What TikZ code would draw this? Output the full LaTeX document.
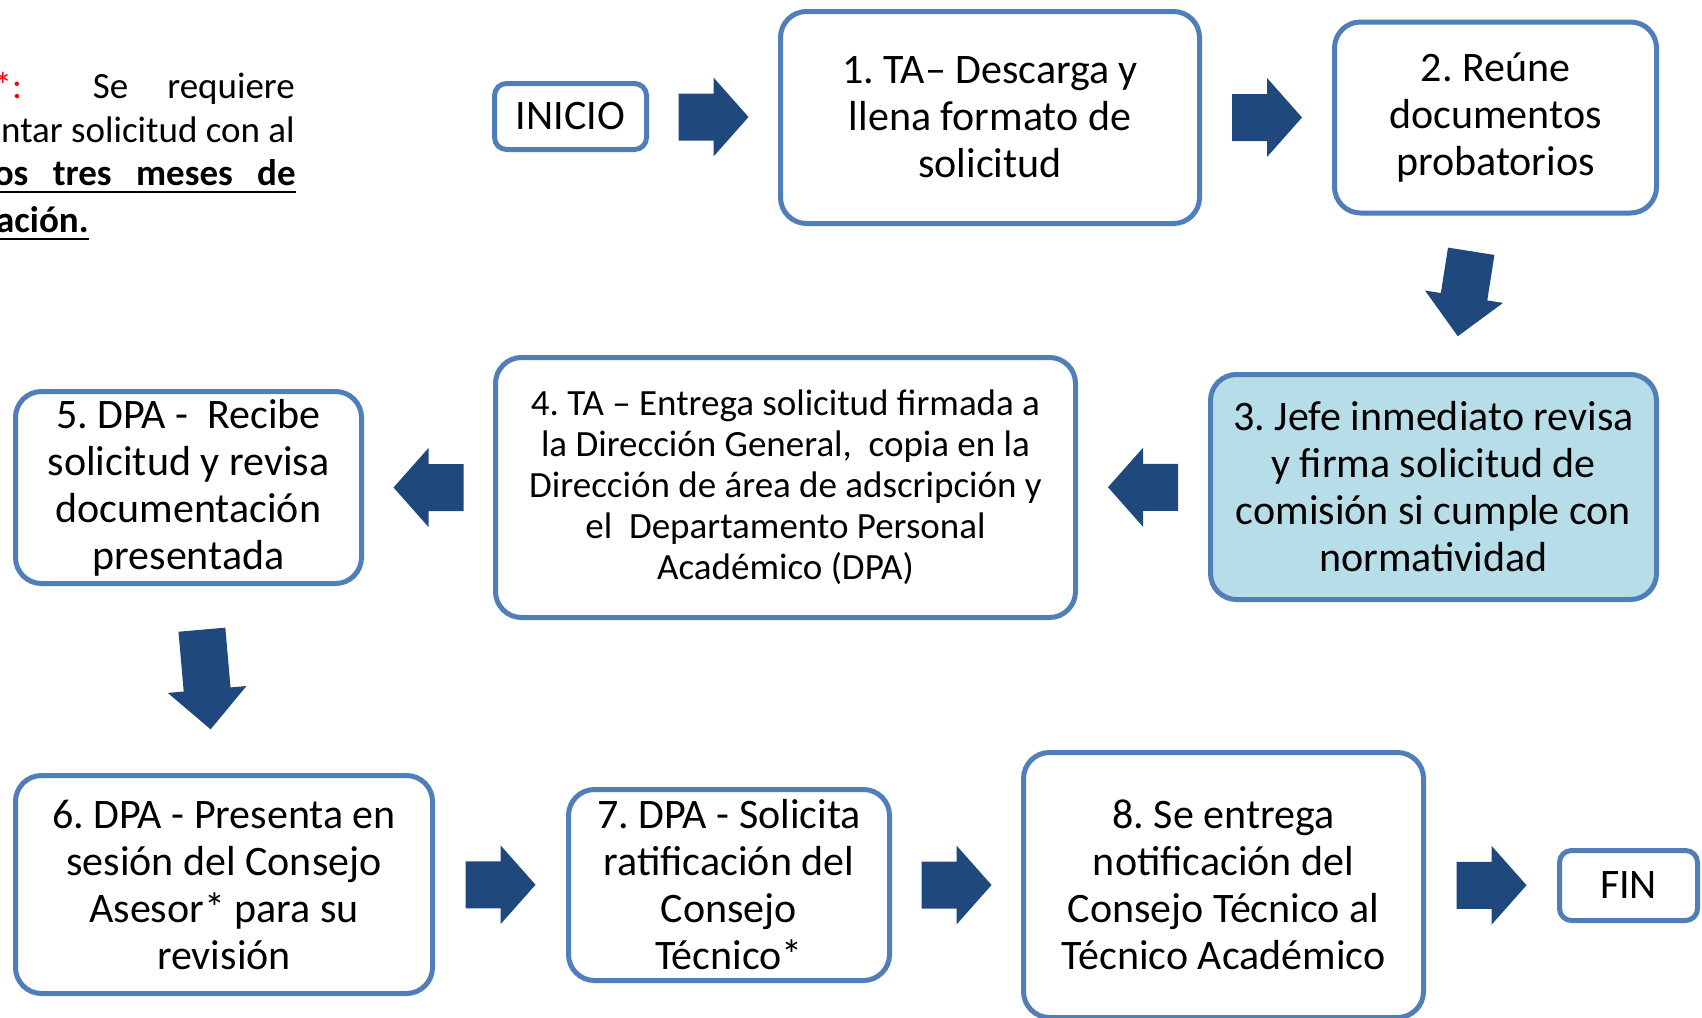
\documentclass[tikz,border=0pt]{standalone}
\usepackage{fontspec}
\setmainfont{Carlito}
\usetikzlibrary{calc}
\frenchspacing
\definecolor{boxblue}{HTML}{4F7EB8}
\definecolor{arrowblue}{HTML}{1F497D}
\definecolor{lightfill}{HTML}{B7DDE8}
\definecolor{notered}{HTML}{FF0000}
\tikzset{
  stepbox/.style={draw=boxblue, line width=5pt, rounded corners=26pt, fill=white,
    align=center, inner sep=0pt, font=\fontsize{42}{47}\selectfont},
  termbox/.style={stepbox, rounded corners=12pt},
  notetext/.style={inner sep=0pt, font=\fontsize{37}{45}\selectfont},
  pics/barrow/.style 2 args={code={
    \fill[arrowblue] ({-#1/2},-23.5) -- ({#1/2-#2},-23.5) -- ({#1/2-#2},-39.5)
      -- ({#1/2},0) -- ({#1/2-#2},39.5) -- ({#1/2-#2},23.5) -- ({-#1/2},23.5) -- cycle;}},
}
\begin{document}
\begin{tikzpicture}[x=1pt,y=-1pt]
\useasboundingbox (0,0) rectangle (1702,1017);
\clip (0,0) rectangle (1702,1017);
\fill[white] (0,0) rectangle (1702,1017);

% note at top left
\node[notetext, anchor=base east] (note1) at (295,98) {\textcolor{notered}{*:}\hspace*{71pt}Se\hspace*{39pt}requiere};
\node[notetext, anchor=base east] (note2) at (295,142) {ntar solicitud con al};
\node[notetext, anchor=base east] (note3) at (296,185) {\makebox[302pt][s]{\bfseries os\hfill tres\hfill meses\hfill de}};
\node[notetext, anchor=base west] (note4) at (-4,232) {\bfseries ación.};
\draw[line width=2.5pt] ($(note3.base west)+(0,7)$) -- ($(note3.base east)+(0,7)$);
\draw[line width=2.5pt] ($(note4.base west)+(0,7)$) -- ($(note4.base east)+(0,7)$);

% boxes
\node[termbox, minimum width=152, minimum height=66] (ini) at (570.5,116.5) {INICIO};
\node[stepbox, minimum width=419, minimum height=212] (b1) at (990,117.5)
  {1. TA– Descarga y\\llena formato de\\solicitud};
\node[stepbox, minimum width=322, minimum height=191] (b2) at (1495.5,117.5)
  {2. Reúne\\documentos\\probatorios};
\node[stepbox, fill=lightfill, minimum width=446, minimum height=225] (b3) at (1433.5,487)
  {3. Jefe inmediato revisa\\y firma solicitud de\\comisión si cumple con\\normatividad};
\node[stepbox, font=\fontsize{37}{41}\selectfont, minimum width=580, minimum height=260] (b4) at (785.5,487.5)
  {4. TA – Entrega solicitud firmada a\\la Dirección General,\ \ copia en la\\Dirección de área de adscripción y\\el\ \ Departamento Personal\\Académico (DPA)};
\node[stepbox, minimum width=346, minimum height=192] (b5) at (188.5,487.5)
  {5. DPA -\ \ Recibe\\solicitud y revisa\\documentación\\presentada};
\node[stepbox, minimum width=417, minimum height=218] (b6) at (224,884.5)
  {6. DPA - Presenta en\\sesión del Consejo\\Asesor* para su\\revisión};
\node[stepbox, minimum width=321, minimum height=191] (b7) at (729,885)
  {7. DPA - Solicita\\ratificación del\\Consejo\\Técnico*};
\node[stepbox, minimum width=400, minimum height=265] (b8) at (1223.5,885)
  {8. Se entrega\\notificación del\\Consejo Técnico al\\Técnico Académico};
\node[termbox, minimum width=138, minimum height=70] (fin) at (1628.5,885.5) {FIN};

% block arrows between the boxes
\pic at ($(ini.east)!0.5!(b1.west)$) {barrow={70}{35}};
\pic at ($(b1.east)!0.5!(b2.west)$) {barrow={70}{35}};
\pic[rotate=-99] at ($(b2.south)!0.5!(b3.north)$) {barrow={86}{40}};
\pic[rotate=180] at ($(b3.west)!0.5!(b4.east)$) {barrow={70}{35}};
\pic[rotate=180] at ($(b4.west)!0.5!(b5.east)$) {barrow={70}{35}};
\pic[rotate=-85] at ($(b5.south)!0.5!(b6.north)$) {barrow={100}{40}};
\pic at ($(b6.east)!0.5!(b7.west)$) {barrow={70}{35}};
\pic at ($(b7.east)!0.5!(b8.west)$) {barrow={70}{35}};
\pic at ($(b8.east)!0.5!(fin.west)$) {barrow={70}{35}};
\end{tikzpicture}
\end{document}
